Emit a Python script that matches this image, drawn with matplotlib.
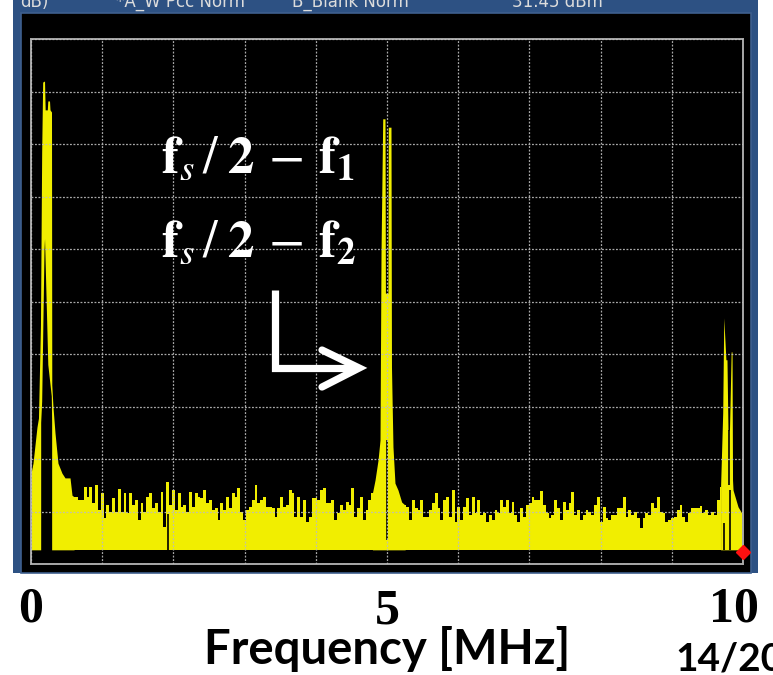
import numpy as np
import matplotlib
matplotlib.use("Agg")
import matplotlib.pyplot as plt
from matplotlib.patches import Rectangle
from matplotlib.transforms import blended_transform_factory

# sweep 0..10 MHz, ref level 0 dB, 10 dB/div
f_start, f_stop = 0.0, 10.0
ref_db, bottom_db = 0.0, -100.0
trace_floor_db = -97.3

# peak near DC (two close tones)
low_peak_f = [0.0, 0.028, 0.084, 0.105, 0.133, 0.150, 0.164, 0.190, 0.199, 0.229,
              0.236, 0.260, 0.267, 0.288, 0.292, 0.309, 0.337, 0.379, 0.435, 0.478,
              0.548, 0.576, 0.605]
low_peak_db = [-82.7, -80.8, -73.9, -72.2, -54.5, -21.5, -8.2, -8.0, -13.5, -13.5,
               -11.8, -11.8, -13.5, -13.9, -65.9, -70.1, -75.0, -80.8, -82.7, -83.6,
               -83.6, -86.9, -87.2]
# dark gap between the two tones near DC
low_gap_f = [0.136, 0.150, 0.183, 0.190, 0.236, 0.285, 0.290]
low_gap_db = [-73.0, -69.0, -40.0, -38.0, -62.0, -68.0, -73.0]

# noise floor 0.60 .. 4.80 MHz, 0.04 MHz bins
noise_a_db = [
    -87.2, -87.2, -87.8, -87.8, -85.3, -87.2, -85.4, -88.4, -84.9, -89.7,
    -86.5, -91.3, -88.8, -90.0, -87.5, -90.0, -85.8, -90.0, -86.5, -90.3,
    -86.5, -88.8, -87.8, -91.6, -88.4, -90.0, -87.2, -86.5, -89.4, -88.4,
    -90.0, -86.2, -92.9, -84.3, -88.8, -85.9, -89.7, -86.5, -89.1, -88.8,
    -90.0, -86.2, -89.1, -86.5, -87.2, -87.5, -85.9, -88.4, -87.8, -89.7,
    -89.4, -91.6, -88.4, -89.7, -87.2, -89.4, -86.5, -87.2, -85.6, -90.0,
    -91.6, -89.7, -89.1, -87.8, -84.9, -88.4, -87.8, -87.2, -89.1, -89.1,
    -89.4, -91.0, -89.4, -87.2, -89.1, -88.8, -85.9, -86.5, -91.0, -87.2,
    -91.0, -87.8, -92.0, -91.0, -87.5, -87.5, -87.8, -85.9, -85.6, -88.4,
    -88.4, -87.8, -91.6, -90.3, -88.8, -89.7, -88.1, -88.8, -85.6, -91.0,
    -89.4, -87.2, -91.6, -89.7, -87.8, -86.5]

# image tone at fs/2
mid_peak_f = [4.795, 4.832, 4.874, 4.902, 4.916, 4.940, 4.972, 4.978, 5.013, 5.018,
              5.056, 5.063, 5.084, 5.112, 5.154, 5.206, 5.255]
mid_peak_db = [-86.5, -84.0, -80.2, -76.4, -40.8, -15.2, -15.2, -48.4, -48.4, -16.8,
               -16.8, -62.5, -77.7, -84.6, -85.9, -88.2, -88.8]

# noise floor 5.25 .. 9.69 MHz, 0.04 MHz bins
noise_b_db = [
    -88.8, -89.1, -91.6, -87.8, -89.4, -89.7, -87.8, -91.0, -91.0, -89.7,
    -88.4, -86.5, -89.4, -91.6, -87.8, -87.2, -91.0, -85.9, -92.0, -89.1,
    -91.6, -89.1, -87.5, -90.7, -87.2, -90.3, -87.8, -90.7, -90.3, -92.0,
    -90.7, -91.6, -89.7, -90.3, -87.8, -89.1, -87.8, -90.3, -88.1, -90.7,
    -92.0, -89.4, -91.0, -88.8, -88.4, -87.2, -87.8, -87.8, -86.0, -88.8,
    -90.3, -91.3, -90.7, -87.8, -89.4, -91.6, -88.1, -89.7, -88.4, -86.2,
    -90.7, -89.7, -91.6, -90.7, -89.7, -90.0, -90.7, -88.8, -87.2, -92.0,
    -89.1, -91.3, -91.6, -90.7, -90.7, -89.4, -89.4, -87.2, -91.0, -89.7,
    -90.7, -90.0, -91.3, -93.2, -91.3, -90.3, -90.7, -88.4, -89.4, -87.2,
    -90.0, -90.3, -92.0, -91.6, -91.3, -91.0, -89.7, -88.8, -91.0, -92.0,
    -90.3, -89.4, -89.4, -89.4, -89.0, -90.3, -89.7, -90.7, -90.1, -90.7,
    -87.8, -85.3]

# tone near fs
high_peak_f = [9.685, 9.715, 9.730, 9.760, 9.775, 9.789, 9.810, 9.834, 9.846, 9.853,
               9.860, 9.930, 9.982, 10.0]
high_peak_db = [-85.3, -71.2, -53.1, -61.1, -61.1, -74.5, -74.5, -59.6, -59.6, -84.0,
                -85.9, -89.1, -90.3, -96.8]

# narrow dropouts in the trace: freq, top, bottom
dip_f = [1.924, 4.994, 9.733, 9.800, 9.817]
dip_top_db = [-90.5, -76.4, -92.2, -74.5, -85.9]
dip_bot_db = [-97.3, -95.4, -97.3, -85.0, -97.3]

marker_f, marker_db = 10.0, -97.7

tick_vals = [0, 5, 10]
status_texts = ["dB)", "*A_W Pcc Norm", "B_Blank Norm", "31.45 dBm"]
status_x = [20, 116, 292, 512]

YELLOW = "#f1ee00"
FRAME = "#2d5183"

plt.rcParams["mathtext.fontset"] = "stix"

W, H = 773, 675
fig = plt.figure(figsize=(W / 100, H / 100), dpi=100)
fig.patch.set_facecolor("white")

# instrument bezel, kept behind the axes
fig.add_artist(Rectangle((13 / W, 1 - 573 / H), 745 / W, 573 / H,
                         transform=fig.transFigure, facecolor=FRAME, edgecolor="none",
                         zorder=-20))
fig.add_artist(Rectangle((21 / W, 1 - 573 / H), 730 / W, (573 - 13) / H,
                         transform=fig.transFigure, facecolor="black",
                         edgecolor="#3e5f8e", lw=1.2, zorder=-10))
for s, x in zip(status_texts, status_x):
    fig.text(x / W, 1 - 7 / H, s, color="#dcdcdc", fontsize=12,
             family="DejaVu Sans", va="baseline")

ax = fig.add_axes([31 / W, 1 - 564 / H, 712 / W, 525 / H])
ax.set_facecolor("black")
ax.set_xlim(f_start, f_stop)
ax.set_ylim(bottom_db, ref_db)

noise_a_f = np.linspace(0.60, 4.80, len(noise_a_db))
noise_b_f = np.linspace(5.25, 9.69, len(noise_b_db))

ax.fill_between(low_peak_f, trace_floor_db, low_peak_db, color=YELLOW, lw=0)
ax.fill_between(low_gap_f, bottom_db, low_gap_db, color="black", lw=0)
ax.fill_between(noise_a_f, trace_floor_db, noise_a_db, step="mid", color=YELLOW, lw=0)
ax.fill_between(mid_peak_f, trace_floor_db, mid_peak_db, color=YELLOW, lw=0)
ax.fill_between(noise_b_f, trace_floor_db, noise_b_db, step="mid", color=YELLOW, lw=0)
ax.fill_between(high_peak_f, trace_floor_db, high_peak_db, color=YELLOW, lw=0)
ax.vlines(dip_f, dip_bot_db, dip_top_db, color="black", lw=1.2, zorder=1.5)
ax.plot([marker_f], [marker_db], marker="D", color="#ff1010", ms=7, clip_on=False, zorder=5)

ax.set_xticks(np.arange(0, 11, 1))
ax.set_yticks(np.arange(-100, 1, 10))
ax.tick_params(length=0, labelbottom=False, labelleft=False)
ax.set_axisbelow(False)
ax.grid(True, color="#bdbdbd", lw=0.9, ls=(0, (1.5, 1.3)), alpha=0.9)
for sp in ax.spines.values():
    sp.set_color("#a8a8a8")
    sp.set_linewidth(1.4)

# white annotation
label_1 = r"$\mathbf{f}_{\mathit{s}}\,/\;\mathbf{2}\,-\,\mathbf{f}_{\mathbf{1}}$"
label_2 = r"$\mathbf{f}_{\mathit{s}}\,/\;\mathbf{2}\,-\,\mathbf{f}_{\mathbf{2}}$"
ax.text(0.182, 0.745, label_1, transform=ax.transAxes, color="white",
        fontsize=38, va="baseline", zorder=4)
ax.text(0.182, 0.585, label_2, transform=ax.transAxes, color="white",
        fontsize=38, va="baseline", zorder=4)
ax.plot([0.3427, 0.3427, 0.456], [0.5219, 0.3733, 0.3733], color="white", lw=5.2,
        transform=ax.transAxes, solid_joinstyle="miter", solid_capstyle="butt", zorder=4)
ax.plot([0.4087, 0.4610, 0.4087], [0.4076, 0.3733, 0.3371], color="white", lw=5.2,
        transform=ax.transAxes, solid_joinstyle="miter", solid_capstyle="round", zorder=4)

# frequency labels under the screen
tr = blended_transform_factory(ax.transData, fig.transFigure)
tick_pos = [0.0, 5.0, 9.87]
tick_base = [1 - 622 / H, 1 - 624 / H, 1 - 622 / H]
for v, x, y in zip(tick_vals, tick_pos, tick_base):
    fig.text(x, y, str(v), transform=tr, ha="center", va="baseline",
             fontsize=36, fontweight="bold", family="Liberation Serif")
fig.text(5.0, 1 - 664 / H, "Frequency [MHz]", transform=tr, ha="center", va="baseline",
         fontsize=34, fontweight="bold", family=["Lato", "DejaVu Sans"])
fig.text(675 / W, 1 - 670 / H, "14/20", ha="left", va="baseline",
         fontsize=28, fontweight="bold", family=["Lato", "DejaVu Sans"])

fig.savefig("out.png", dpi=100)
